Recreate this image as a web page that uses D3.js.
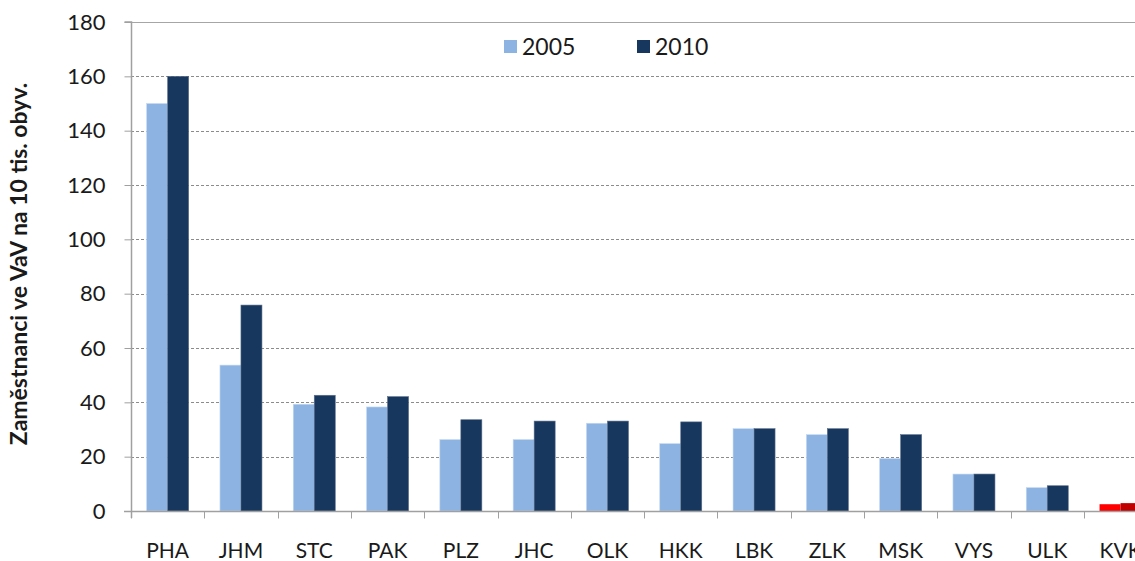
<!DOCTYPE html>
<html>
<head>
<meta charset="utf-8">
<script src="https://cdn.jsdelivr.net/npm/d3@7"></script>
<style>
  body { margin: 0; background: #fff; }
  text { font-family: Lato, "Open Sans", sans-serif; fill: #1a1a1a; }
</style>
</head>
<body>
<svg id="chart" width="1135" height="561"></svg>
<script>
var regions = ["PHA", "JHM", "STC", "PAK", "PLZ", "JHC", "OLK", "HKK", "LBK", "ZLK", "MSK", "VYS", "ULK", "KVK"];
var years = ["2005", "2010"];
var values2005 = [150, 53.7, 39.3, 38.3, 26.3, 26.3, 32.3, 24.8, 30.3, 28.1, 19.3, 13.6, 8.6, 2.5];
var values2010 = [160, 75.8, 42.6, 42.1, 33.6, 33.1, 33.1, 32.8, 30.3, 30.3, 28.1, 13.6, 9.3, 2.9];
var yTicks = [0, 20, 40, 60, 80, 100, 120, 140, 160, 180];
var highlight = "KVK"; // zvyraznena oblast

var colors = { "2005": "#8db3e2", "2010": "#17375e" };
var hiColors = { "2005": "#ff0000", "2010": "#c00000" };

var w = 1135, h = 561;
var padLeft = 131, padTop = 22, baseY = 511;
var band = 73.3;
var plotRight = padLeft + band * regions.length;

var svg = d3.select("#chart");

var x = d3.scaleBand()
    .domain(regions)
    .range([padLeft, plotRight])
    .paddingInner(0)
    .paddingOuter(0);

var xSub = d3.scaleBand()
    .domain(years)
    .range([0, 42]);

var y = d3.scaleLinear()
    .domain([0, 180])
    .range([baseY, padTop]);

// grid
svg.append("g")
  .selectAll("line")
  .data(yTicks.filter(function(d) { return d > 0; }))
  .enter()
  .append("line")
  .attr("x1", padLeft)
  .attr("x2", w)
  .attr("y1", function(d) { return Math.round(y(d)) + 0.5; })
  .attr("y2", function(d) { return Math.round(y(d)) + 0.5; })
  .attr("stroke", function(d) { return d == 180 ? "#a6a6a6" : "#8c8c8c"; })
  .attr("stroke-width", 1)
  .attr("stroke-dasharray", function(d) { return d == 180 ? null : "3,2"; });

// bars
var rows = regions.map(function(r, i) {
  return { region: r, vals: [ { year: "2005", v: values2005[i] }, { year: "2010", v: values2010[i] } ] };
});

var groups = svg.append("g")
  .selectAll("g")
  .data(rows)
  .enter()
  .append("g")
  .attr("transform", function(d) {
    return "translate(" + (x(d.region) + (x.bandwidth() - 42) / 2) + ",0)";
  });

groups.selectAll("rect")
  .data(function(d) {
    return d.vals.map(function(v) { return { region: d.region, year: v.year, v: v.v }; });
  })
  .enter()
  .append("rect")
  .attr("x", function(d) { return xSub(d.year); })
  .attr("y", function(d) { return y(d.v); })
  .attr("width", xSub.bandwidth())
  .attr("height", function(d) { return baseY - y(d.v); })
  .attr("fill", function(d) {
    return d.region == highlight ? hiColors[d.year] : colors[d.year];
  })
  .attr("stroke", function(d) {
    if (d.region == highlight) return "none";
    return d.year == "2005" ? "#c6d9f1" : "#5a6e8a";
  })
  .attr("stroke-width", 0.6);

// y axis
var yAxis = d3.axisLeft(y)
    .tickValues(yTicks)
    .tickSize(7)
    .tickPadding(19)
    .tickFormat(d3.format("d"));

var ya = svg.append("g")
  .attr("transform", "translate(" + (padLeft + 0.5) + ",0)")
  .call(yAxis);
ya.select(".domain").attr("stroke", "#a0a0a0").attr("stroke-width", 1.5)
  .attr("d", "M-7," + padTop + "H0V" + (baseY + 7));
ya.selectAll(".tick line").attr("stroke", "#a0a0a0");
ya.selectAll(".tick text")
  .attr("font-size", 22)
  .attr("fill", "#1a1a1a")
  .style("font-family", "Lato, 'Open Sans', sans-serif");

// x axis
var xa = svg.append("g")
  .attr("transform", "translate(0," + (baseY + 0.5) + ")");
xa.append("line")
  .attr("x1", padLeft - 7)
  .attr("x2", w)
  .attr("stroke", "#a0a0a0")
  .attr("stroke-width", 1.5);
xa.selectAll("line.tk")
  .data(regions)
  .enter()
  .append("line")
  .attr("class", "tk")
  .attr("x1", function(d) { return Math.round(x(d)) + 0.5; })
  .attr("x2", function(d) { return Math.round(x(d)) + 0.5; })
  .attr("y1", 0)
  .attr("y2", 7)
  .attr("stroke", "#a0a0a0");
xa.selectAll("text")
  .data(regions)
  .enter()
  .append("text")
  .text(function(d) { return d; })
  .attr("x", function(d) { return x(d) + x.bandwidth() / 2; })
  .attr("y", 46)
  .attr("text-anchor", "middle")
  .attr("font-size", 21);

// y title
svg.append("text")
  .text("Zaměstnanci ve VaV na 10 tis. obyv.")
  .attr("transform", "translate(27,264) rotate(-90)")
  .attr("text-anchor", "middle")
  .attr("font-size", 23)
  .attr("font-weight", "bold");

// legend
var legend = svg.append("g")
  .selectAll("g")
  .data(years)
  .enter()
  .append("g")
  .attr("transform", function(d, i) { return "translate(" + (504 + i * 133) + ",40)"; });
legend.append("rect")
  .attr("width", 13)
  .attr("height", 13)
  .attr("fill", function(d) { return colors[d]; });
legend.append("text")
  .text(function(d) { return d; })
  .attr("x", 18)
  .attr("y", 15)
  .attr("font-size", 23);
</script>
</body>
</html>
